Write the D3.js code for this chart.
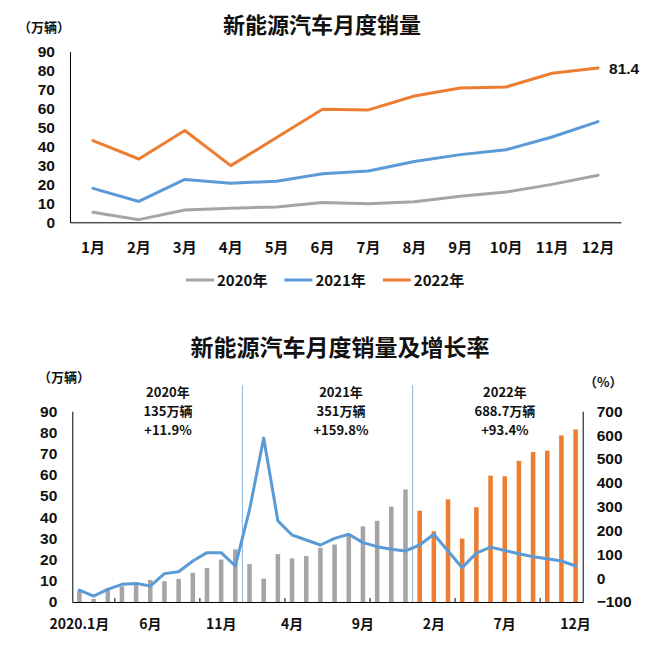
<!DOCTYPE html>
<html>
<head>
<meta charset="utf-8">
<script src="https://cdn.jsdelivr.net/npm/d3@7"></script>
<style>
  html, body { margin: 0; padding: 0; background: #ffffff; }
  svg { display: block; }
  text { font-family: "Noto Sans CJK SC", "Noto Sans", sans-serif; font-weight: 700; fill: #111; }
  text.num { font-family: "Liberation Sans", "Noto Sans", sans-serif; }
</style>
</head>
<body>
<svg id="chart" width="656" height="649"></svg>
<script>
// ---------- data ----------
const months = ["1月","2月","3月","4月","5月","6月","7月","8月","9月","10月","11月","12月"];
const years = ["2020年","2021年","2022年"];
const sales2020 = [5.3, 1.4, 6.5, 7.4, 8.1, 10.4, 9.8, 10.9, 13.8, 16.0, 20.0, 24.8];
const sales2021 = [17.9, 11.0, 22.6, 20.6, 21.7, 25.6, 27.1, 32.1, 35.7, 38.3, 45.0, 53.1];
const sales2022 = [43.1, 33.4, 48.4, 29.9, 44.7, 59.6, 59.3, 66.6, 70.8, 71.4, 78.6, 81.4];
const growth2020 = [-50, -75, -47, -26, -22, -33, 19, 27, 72, 107, 107, 51];
const growth2021 = [286, 588, 240, 181, 160, 139, 167, 184, 149, 132, 121, 114];
const growth2022 = [139, 184, 114, 44, 105, 130, 116, 102, 90, 81, 72, 51];
const salesTicks = [0, 10, 20, 30, 40, 50, 60, 70, 80, 90];
const growthTicks = [-100, 0, 100, 200, 300, 400, 500, 600, 700];
const periodLabels = ["2020.1月","6月","11月","4月","9月","2月","7月","12月"];
const periodTickIdx = [0, 5, 10, 15, 20, 25, 30, 35];
const yearTotals = ["135万辆","351万辆","688.7万辆"];
const yearGrowth = ["+11.9%","+159.8%","+93.4%"];
const endLabel = "81.4";

const colors = ["#a5a5a5", "#5b9bd5", "#ed7d31"];
const svg = d3.select("#chart");

// ================= TOP CHART =================
const gTop = svg.append("g");
const x1 = d3.scaleBand().domain(months).range([70, 621]);
const y1 = d3.scaleLinear().domain([0, 90]).range([222.3, 51.7]);
const cx1 = m => x1(m) + x1.bandwidth() / 2;

gTop.append("text").attr("x", 322).attr("y", 33).attr("text-anchor", "middle")
  .style("font-size", "22px").text("新能源汽车月度销量");
gTop.append("text").attr("x", 18).attr("y", 32).style("font-size", "13px").text("（万辆）");

const ya1 = gTop.append("g").attr("transform", "translate(70,0)")
  .call(d3.axisLeft(y1).tickValues(salesTicks).tickSize(0).tickPadding(15));
ya1.select(".domain").attr("stroke", "#000");
ya1.selectAll("text").attr("class", "num").style("font-size", "15.5px").attr("fill", "#111").attr("font-family", null);

const xa1 = gTop.append("g").attr("transform", "translate(0,222.3)")
  .call(d3.axisBottom(x1).tickSize(0).tickPadding(20));
xa1.select(".domain").attr("stroke", "#000");
xa1.selectAll("text").style("font-size", "15px").attr("fill", "#111").attr("font-family", null);

const line1 = d3.line().x((d, i) => cx1(months[i])).y(d => y1(d));
[sales2020, sales2021, sales2022].forEach((s, k) => {
  gTop.append("path").datum(s).attr("d", line1).attr("fill", "none")
    .attr("stroke", colors[k]).attr("stroke-width", 3).attr("stroke-linejoin", "round").attr("stroke-linecap", "round");
});
gTop.append("text").attr("class", "num").attr("x", cx1(months[11]) + 11).attr("y", y1(sales2022[11]) + 5.5)
  .style("font-size", "15.5px").text(endLabel);

// legend
const leg = gTop.append("g");
let lx = 186;
years.forEach((yname, k) => {
  leg.append("line").attr("x1", lx).attr("x2", lx + 28).attr("y1", 280).attr("y2", 280)
    .attr("stroke", colors[k]).attr("stroke-width", 3);
  const t = leg.append("text").attr("x", lx + 31).attr("y", 285.5).style("font-size", "15px").text(yname);
  lx += 31 + t.node().getComputedTextLength() + 17;
});

// ================= BOTTOM CHART =================
const gBot = svg.append("g");
const allSales = sales2020.concat(sales2021, sales2022);
const allGrowth = growth2020.concat(growth2021, growth2022);
const idx = d3.range(allSales.length);
const xb = d3.scaleBand().domain(idx).range([72.3, 582.7]).paddingInner(0.68).paddingOuter(0.34);
const step = xb.step();
const cxb = i => xb(i) + xb.bandwidth() / 2;
const boundary = i => xb(i) - step * 0.34;
const yL = d3.scaleLinear().domain([0, 90]).range([602, 411.2]);
const yR = d3.scaleLinear().domain([-100, 700]).range([602, 411.2]);

gBot.append("text").attr("x", 340).attr("y", 356).attr("text-anchor", "middle")
  .style("font-size", "23px").text("新能源汽车月度销量及增长率");
gBot.append("text").attr("x", 38).attr("y", 382).style("font-size", "13px").text("（万辆）");
gBot.append("text").attr("x", 584).attr("y", 387).style("font-size", "13px").text("（%）");

// dividers
[12, 24].forEach(i => {
  gBot.append("line").attr("x1", boundary(i)).attr("x2", boundary(i))
    .attr("y1", 385).attr("y2", 602).attr("stroke", "#8fb4e0").attr("stroke-width", 1);
});

// bars
gBot.selectAll("rect.bar").data(allSales).enter().append("rect")
  .attr("class", "bar")
  .attr("x", (d, i) => xb(i)).attr("width", xb.bandwidth())
  .attr("y", d => yL(d)).attr("height", d => yL(0) - yL(d))
  .attr("fill", (d, i) => i >= 24 ? colors[2] : colors[0]);

// axes
const yaL = gBot.append("g").attr("transform", "translate(72.3,0)")
  .call(d3.axisLeft(yL).tickValues(salesTicks).tickSize(0).tickPadding(15));
yaL.select(".domain").attr("stroke", "#000");
yaL.selectAll("text").attr("class", "num").style("font-size", "15.5px").attr("fill", "#111").attr("font-family", null);

const yaR = gBot.append("g").attr("transform", "translate(582.7,0)")
  .call(d3.axisRight(yR).tickValues(growthTicks).tickSize(0).tickPadding(14));
yaR.select(".domain").attr("stroke", "#000");
yaR.selectAll("text").attr("class", "num").style("font-size", "15.5px").attr("fill", "#111").attr("font-family", null);

const xaB = gBot.append("g").attr("transform", "translate(0,602)")
  .call(d3.axisBottom(xb).tickValues(periodTickIdx).tickSize(0).tickPadding(17)
    .tickFormat((d, i) => periodLabels[i]));
xaB.select(".domain").attr("stroke", "#000");
xaB.selectAll("text").style("font-size", "14px").attr("fill", "#111").attr("font-family", null);

// small inner ticks
[3, 9, 15, 21, 27, 33].forEach(i => {
  gBot.append("line").attr("x1", boundary(i)).attr("x2", boundary(i))
    .attr("y1", 598).attr("y2", 602).attr("stroke", "#000").attr("stroke-width", 1);
});

// growth line
const lineB = d3.line().x((d, i) => cxb(i)).y(d => yR(d));
gBot.append("path").datum(allGrowth).attr("d", lineB).attr("fill", "none")
  .attr("stroke", colors[1]).attr("stroke-width", 3).attr("stroke-linejoin", "round").attr("stroke-linecap", "round");

// annotations
const annOffsets = [10.6, 13.5, 7.3];
years.forEach((yname, k) => {
  const cx = (boundary(k * 12) + (k === 2 ? 582.7 : boundary(k * 12 + 12))) / 2 + annOffsets[k];
  const g = gBot.append("g").attr("text-anchor", "middle").style("font-size", "13px");
  g.append("text").attr("x", cx).attr("y", 396.5).text(yname);
  g.append("text").attr("x", cx).attr("y", 415.5).text(yearTotals[k]);
  g.append("text").attr("x", cx).attr("y", 434.5).text(yearGrowth[k]);
});
</script>
</body>
</html>
